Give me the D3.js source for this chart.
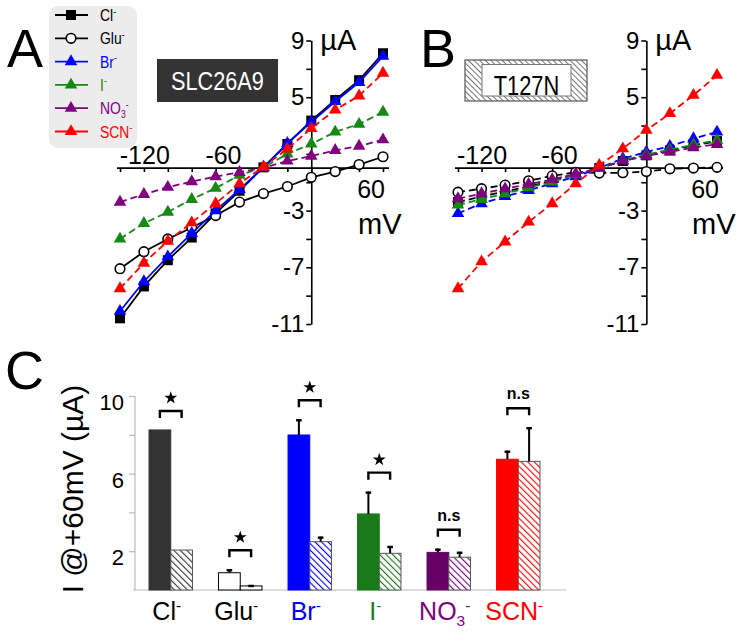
<!DOCTYPE html>
<html><head><meta charset="utf-8">
<script src="https://cdn.jsdelivr.net/npm/d3@7"></script>
<style>body{margin:0;background:#fff} svg{display:block;font-family:"Liberation Sans",Arial,sans-serif}</style>
</head><body><svg id="c" width="744" height="643"></svg>
<script>
// ---------------- DATA ----------------
const voltages = [-160,-140,-120,-100,-80,-60,-40,-20,0,20,40,60];
const ionNames = ["Cl","Glu","Br","I","NO3","SCN"];
const ionColors = ["#000000","#000000","#0000ff","#138a13","#800080","#ff0000"];
const ionMarkers = ["square","circle","triangle","triangle","triangle","triangle"];

// Panel A: SLC26A9 (wild type), current in µA
const wtCl  = [-10.6,-8.35,-6.5,-4.9,-3.2,-1.6,0.05,1.7,3.35,4.8,6.2,8.1];
const wtGlu = [-7.1,-5.9,-5.0,-4.2,-3.35,-2.4,-1.8,-1.3,-0.65,-0.25,0.25,0.8];
const wtBr  = [-10.1,-8.0,-6.25,-4.6,-3.0,-1.5,0.05,1.75,3.25,4.7,6.05,7.9];
const wtI   = [-5.0,-3.9,-3.1,-2.2,-1.42,-0.5,0.05,1.0,1.7,2.55,3.1,3.95];
const wtNO3 = [-2.4,-1.85,-1.35,-0.95,-0.6,-0.3,0.02,0.5,0.85,1.25,1.55,2.0];
const wtSCN = [-8.5,-6.7,-5.15,-3.85,-2.5,-1.1,0.1,1.35,2.8,4.1,5.1,6.7];

// Panel B: T127N mutant
const mutCl  = [-2.4,-2.0,-1.65,-1.3,-0.9,-0.45,0.0,0.5,0.9,1.25,1.6,1.9];
const mutGlu = [-1.7,-1.45,-1.2,-0.9,-0.55,-0.3,-0.35,-0.33,-0.25,-0.05,0.0,0.05];
const mutBr  = [-3.2,-2.5,-2.0,-1.57,-1.1,-0.6,0.0,0.67,1.14,1.54,2.08,2.55];
const mutI   = [-2.6,-2.2,-1.8,-1.38,-0.98,-0.45,0.0,0.55,0.95,1.3,1.65,1.96];
const mutNO3 = [-2.15,-1.8,-1.45,-1.14,-0.8,-0.4,0.0,0.5,0.85,1.15,1.45,1.68];
const mutSCN = [-8.5,-6.6,-5.2,-3.8,-2.5,-1.1,0.2,1.37,2.67,3.85,5.14,6.55];

const ivYTicks = [-11,-9,-7,-5,-3,-1,1,3,5,7,9];
const ivYLabels = [9,5,-3,-7,-11];
const ivXLabels = [-120,-60,60];

// Panel C: current at +60 mV
const barCategories = ["Cl","Glu","Br","I","NO3","SCN"];
const barWT     = [8.25,0.89,7.99,3.92,1.94,6.74];
const barWTerr  = [0,0.18,0.81,1.15,0.19,0.44];
const barMut    = [2.06,0.21,2.49,1.89,1.69,6.63];
const barMuterr = [0,0.05,0.26,0.38,0.28,1.76];
const barSig    = ["*","*","*","*","n.s","n.s"];
const barWTFill = ["#333333","#ffffff","#0000ff","#1a7a1a","#660066","#ff0000"];
const barHatch  = ["#333333",null,"#0000ff","#1a7a1a","#800080","#ff0000"];
const barLabelColors = ["#000000","#000000","#0000ff","#1a7a1a","#800080","#ff0000"];
const barYTicks = [2,4,6,8,10];
const barYLabels = [10,6,2];

// ---------------- DRAW ----------------
const svg = d3.select("#c");
const defs = svg.append("defs");

function ionLabel(sel, name, size) {
  if (name === "NO3") {
    sel.append("tspan").text("NO");
    sel.append("tspan").text("3").attr("font-size", size*0.62).attr("dy", size*0.22);
    sel.append("tspan").text("-").attr("font-size", size*0.62).attr("dy", -size*0.6);
  } else {
    sel.append("tspan").text(name);
    sel.append("tspan").text("-").attr("font-size", size*0.62).attr("dy", -size*0.38);
  }
}

function drawMarker(g, type, cx, cy, color) {
  if (type === "square") {
    g.append("rect").attr("x", cx-5).attr("y", cy-5).attr("width",10).attr("height",10).attr("fill", color);
  } else if (type === "circle") {
    g.append("circle").attr("cx", cx).attr("cy", cy).attr("r", 4.8).attr("fill","#fff").attr("stroke","#000").attr("stroke-width",1.6);
  } else {
    g.append("path").attr("d", d3.symbol(d3.symbolTriangle, 68)()).attr("transform", `translate(${cx},${cy})`).attr("fill", color);
  }
}

// Panel letters
[["A",7,67],["B",420,67],["C",5,389]].forEach(([t,x,y]) => {
  svg.append("text").attr("x",x).attr("y",y).attr("font-size",54).text(t);
});

function ivPanel(xr, series, dashed) {
  const x = d3.scaleLinear().domain([-160,60]).range(xr);
  const y = d3.scaleLinear().domain([-11,9]).range([324,40.5]);
  const g = svg.append("g");
  const x0 = x(0), y0 = y(0);
  const ya = d3.axisLeft(y).tickValues(ivYTicks).tickSize(5).tickSizeOuter(0).tickPadding(2)
    .tickFormat(d => ivYLabels.includes(d) ? String(d) : "");
  const yg = g.append("g").attr("transform", `translate(${x0},0)`).call(ya);
  yg.selectAll("text").attr("font-size",24).attr("font-family","Liberation Sans").attr("fill","#000");
  yg.selectAll("line,path").attr("stroke","#000").attr("stroke-width",1.6);
  const xa = d3.axisBottom(x).tickValues(voltages).tickSize(4).tickSizeOuter(0).tickFormat("");
  const xg = g.append("g").attr("transform", `translate(0,${y0})`).call(xa);
  xg.select(".domain").remove();
  xg.selectAll("line").attr("stroke","#000").attr("stroke-width",1.6);
  g.append("line").attr("x1", x(-160)-3).attr("x2", x(60)+6).attr("y1", y0).attr("y2", y0)
    .attr("stroke","#000").attr("stroke-width",1.8);
  ivXLabels.forEach(v => {
    g.append("text").attr("x", x(v)+2).attr("y", v < 0 ? y0-4 : y0+30)
      .attr("text-anchor","end").attr("font-size",25).text(String(v));
  });
  g.append("text").attr("x", x0+9).attr("y", 50).attr("font-size",29).text("µA");
  g.append("text").attr("x", xr[1]-25).attr("y", 234).attr("font-size",29).text("mV");
  const line = d3.line().x((d,i) => x(voltages[i])).y(d => y(d));
  series.forEach((vals, k) => {
    g.append("path").attr("d", line(vals)).attr("fill","none").attr("stroke", ionColors[k])
      .attr("stroke-width",1.8).attr("stroke-dasharray", dashed[k] ? "7,4" : null);
    vals.forEach((v,i) => drawMarker(g, ionMarkers[k], x(voltages[i]), y(v), ionColors[k]));
  });
}

ivPanel([120,383], [wtCl,wtGlu,wtBr,wtI,wtNO3,wtSCN], [false,false,false,true,true,true]);
ivPanel([458,717], [mutCl,mutGlu,mutBr,mutI,mutNO3,mutSCN], [true,true,true,true,true,true]);

// Legend
const lg = svg.append("g");
lg.append("rect").attr("x",49).attr("y",6).attr("width",88).attr("height",142).attr("rx",9).attr("fill","#ececec");
ionNames.forEach((n,i) => {
  const yy = 15 + i*23.3;
  lg.append("line").attr("x1",55).attr("x2",88).attr("y1",yy).attr("y2",yy).attr("stroke",ionColors[i]).attr("stroke-width",1.8);
  drawMarker(lg, ionMarkers[i], 71, yy, ionColors[i]);
  const t = lg.append("text").attr("transform", `translate(100,${yy+6}) scale(0.82,1)`)
    .attr("font-size",17).attr("fill", ionColors[i]);
  ionLabel(t, n, 17);
});

// SLC26A9 box
svg.append("rect").attr("x",157).attr("y",59).attr("width",121).attr("height",43).attr("fill","#333333");
svg.append("text").attr("transform","translate(217.5,90) scale(0.85,1)").attr("text-anchor","middle")
  .attr("font-size",25.5).attr("fill","#fff").text("SLC26A9");

// T127N box with hatching
const hb = defs.append("pattern").attr("id","boxhatch").attr("patternUnits","userSpaceOnUse")
  .attr("width",4).attr("height",4).attr("patternTransform","rotate(-45)");
hb.append("rect").attr("width",4).attr("height",4).attr("fill","#fff");
hb.append("line").attr("x1",0).attr("y1",0).attr("x2",0).attr("y2",4).attr("stroke","#666").attr("stroke-width",1.8);
svg.append("rect").attr("x",465).attr("y",60).attr("width",122).attr("height",41).attr("fill","url(#boxhatch)").attr("stroke","#555").attr("stroke-width",1.2);
svg.append("rect").attr("x",482).attr("y",64.5).attr("width",89).attr("height",31.5).attr("fill","#fff").attr("stroke","#777").attr("stroke-width",1);
svg.append("text").attr("transform","translate(526.5,95) scale(0.78,1)").attr("text-anchor","middle")
  .attr("font-size",28).attr("fill","#000").text("T127N");

// ---------------- Panel C ----------------
const yC = d3.scaleLinear().domain([0,10]).range([590,396]);
const xC = d3.scaleBand().domain(barCategories).range([136,553]).paddingInner(0.375).paddingOuter(0.1875);
const xSub = d3.scaleBand().domain(["WT","T127N"]).range([0, xC.bandwidth()]);
const cg = svg.append("g");

barHatch.forEach((c,i) => {
  if (!c) return;
  const p = defs.append("pattern").attr("id","hatch"+i).attr("patternUnits","userSpaceOnUse")
    .attr("width",4.6).attr("height",4.6).attr("patternTransform","rotate(-45)");
  p.append("rect").attr("width",4.6).attr("height",4.6).attr("fill","#fff");
  p.append("line").attr("x1",0).attr("y1",0).attr("x2",0).attr("y2",4.6).attr("stroke",c).attr("stroke-width",2.2);
});

const yaC = d3.axisLeft(yC).tickValues(barYTicks).tickSize(6).tickSizeOuter(0).tickPadding(5)
  .tickFormat(d => barYLabels.includes(d) ? String(d) : "");
const ycg = cg.append("g").attr("transform","translate(135,0)").call(yaC);
ycg.select(".domain").attr("stroke","#bbb").attr("stroke-width",1.2).attr("d", `M0,${yC(0)}V${yC(10)}`);
ycg.selectAll(".tick line").attr("stroke","#bbb").attr("stroke-width",1.2);
ycg.selectAll("text").attr("font-size",22).attr("font-family","Liberation Sans").attr("fill","#000").attr("dy","0.62em");
cg.append("line").attr("x1",133).attr("x2",566).attr("y1",yC(0)).attr("y2",yC(0)).attr("stroke","#bbb").attr("stroke-width",1.2);

cg.append("text").attr("transform","translate(83,489) rotate(-90)").attr("text-anchor","middle")
  .attr("font-size",30).text("I @+60mV (µA)");

barCategories.forEach((cat,i) => {
  const bx = xC(cat), bw = xSub.bandwidth();
  const xw = bx + xSub("WT"), xm = bx + xSub("T127N");
  cg.append("rect").attr("x",xw).attr("y",yC(barWT[i])).attr("width",bw).attr("height",yC(0)-yC(barWT[i]))
    .attr("fill",barWTFill[i]).attr("stroke", i===1 ? "#000" : barWTFill[i]).attr("stroke-width",1);
  cg.append("rect").attr("x",xm).attr("y",yC(barMut[i])).attr("width",bw).attr("height",yC(0)-yC(barMut[i]))
    .attr("fill", barHatch[i] ? `url(#hatch${i})` : "#fff").attr("stroke", i===1 ? "#000" : "#555").attr("stroke-width",1);
  [[xw,barWT[i],barWTerr[i]],[xm,barMut[i],barMuterr[i]]].forEach(([xx,v,e]) => {
    if (e <= 0) return;
    const cx = xx + bw/2;
    cg.append("line").attr("x1",cx).attr("x2",cx).attr("y1",yC(v)).attr("y2",yC(v+e)).attr("stroke","#000").attr("stroke-width",2);
    cg.append("line").attr("x1",cx-2.8).attr("x2",cx+2.8).attr("y1",yC(v+e)+1).attr("y2",yC(v+e)+1).attr("stroke","#000").attr("stroke-width",2.4);
  });
  const top = Math.max(barWT[i]+barWTerr[i], barMut[i]+barMuterr[i]);
  const by = yC(top) - 19;
  const x1 = xw + bw/2, x2 = xm + bw/2;
  cg.append("path").attr("d",`M${x1},${by+7}V${by}H${x2}V${by+7}`).attr("fill","none").attr("stroke","#000").attr("stroke-width",2.4);
  if (barSig[i] === "*") {
    cg.append("path").attr("d", d3.symbol(d3.symbolStar, 52)()).attr("transform",`translate(${(x1+x2)/2},${by-13})`).attr("fill","#000");
  } else {
    cg.append("text").attr("x",(x1+x2)/2).attr("y",by-9).attr("text-anchor","middle").attr("font-size",16)
      .attr("font-weight","bold").text(barSig[i]);
  }
  const t = cg.append("text").attr("x", bx + xC.bandwidth()/2 - 4).attr("y",620).attr("text-anchor","middle")
    .attr("font-size",25).attr("fill",barLabelColors[i]);
  ionLabel(t, cat, 25);
});
</script></body></html>
